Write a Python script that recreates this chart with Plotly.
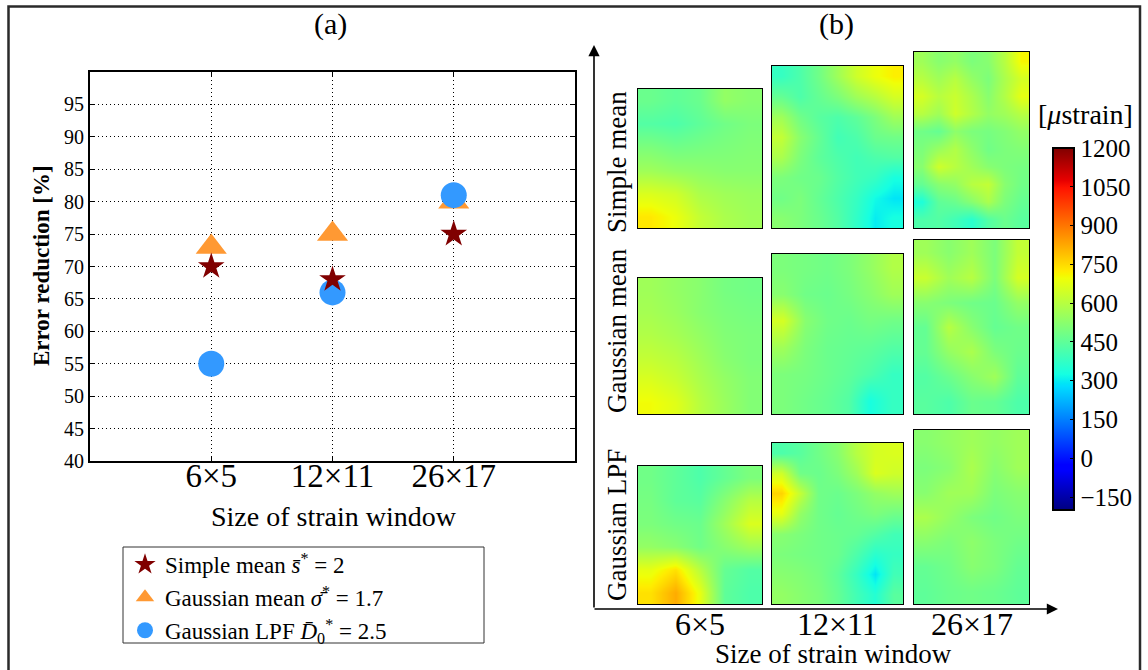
import numpy as np
import plotly.graph_objects as go

W, H = 1148, 670
FONT = "Liberation Serif"

# ---------------- data: panel (a) ----------------
windows = ["6×5", "12×11", "26×17"]
simple_mean = [70, 68, 75]
gaussian_mean = [73, 75, 80]
gaussian_lpf = [55, 66, 81]
y_ticks = [40, 45, 50, 55, 60, 65, 70, 75, 80, 85, 90, 95]

# ---------------- data: panel (b) strain maps [µstrain], rows top->bottom ----------------
methods = ["Simple mean", "Gaussian mean", "Gaussian LPF"]
cbar_ticks = [-150, 0, 150, 300, 450, 600, 750, 900, 1050, 1200]

simple_6x5 = [
    [470, 450, 470, 540, 520],
    [430, 420, 450, 480, 500],
    [500, 480, 490, 500, 510],
    [560, 540, 530, 520, 520],
    [660, 640, 580, 560, 550],
    [730, 690, 620, 580, 560],
]
simple_12x11 = [
    [380, 420, 480, 560, 640, 690, 720],
    [460, 420, 460, 500, 560, 600, 650],
    [560, 480, 440, 420, 450, 500, 560],
    [620, 520, 460, 400, 420, 470, 480],
    [580, 500, 450, 420, 400, 420, 430],
    [500, 480, 470, 430, 400, 380, 330],
    [480, 500, 460, 420, 380, 320, 290],
    [520, 500, 470, 430, 370, 300, 330],
]
simple_26x17 = [
    [560, 520, 540, 500, 520, 600, 710],
    [600, 560, 600, 540, 500, 580, 650],
    [650, 600, 630, 580, 520, 590, 680],
    [600, 560, 640, 590, 540, 560, 600],
    [480, 460, 530, 500, 490, 510, 540],
    [500, 550, 590, 530, 480, 500, 510],
    [520, 640, 600, 560, 520, 500, 490],
    [460, 520, 540, 600, 620, 520, 480],
    [340, 450, 470, 520, 580, 500, 460],
    [420, 430, 400, 360, 430, 470, 440],
]
gmean_6x5 = [
    [560, 540, 520, 490, 480],
    [570, 550, 520, 500, 490],
    [590, 570, 540, 510, 500],
    [620, 600, 560, 520, 500],
    [660, 630, 580, 540, 510],
    [700, 670, 600, 550, 510],
]
gmean_12x11 = [
    [500, 490, 480, 500, 540, 590],
    [520, 480, 470, 490, 520, 560],
    [650, 520, 480, 470, 490, 480],
    [560, 500, 470, 460, 450, 430],
    [500, 490, 470, 450, 420, 380],
    [500, 480, 460, 430, 330, 380],
]
gmean_26x17 = [
    [560, 520, 560, 500, 620],
    [630, 560, 600, 500, 650],
    [520, 500, 480, 470, 540],
    [460, 600, 520, 460, 480],
    [460, 540, 580, 500, 470],
    [430, 470, 520, 560, 450],
    [440, 420, 470, 460, 420],
]
lpf_6x5 = [
    [480, 450, 420, 460, 500],
    [490, 450, 440, 520, 600],
    [500, 480, 470, 560, 660],
    [540, 520, 480, 520, 560],
    [680, 740, 600, 460, 430],
    [740, 820, 680, 450, 420],
]
lpf_12x11 = [
    [420, 440, 480, 520, 600, 650, 660],
    [640, 480, 470, 500, 560, 660, 640],
    [760, 620, 480, 470, 500, 540, 560],
    [680, 540, 480, 460, 480, 500, 480],
    [520, 500, 480, 470, 460, 430, 400],
    [500, 490, 480, 470, 420, 360, 380],
    [520, 510, 490, 450, 380, 290, 400],
    [540, 520, 500, 460, 400, 350, 440],
]
lpf_26x17 = [
    [520, 540, 560, 540, 560],
    [500, 520, 580, 520, 560],
    [520, 560, 560, 500, 520],
    [580, 540, 500, 480, 500],
    [520, 500, 530, 500, 480],
    [460, 480, 520, 500, 460],
    [450, 470, 480, 470, 450],
]
maps = [
    [simple_6x5, simple_12x11, simple_26x17],
    [gmean_6x5, gmean_12x11, gmean_26x17],
    [lpf_6x5, lpf_12x11, lpf_26x17],
]

# ---------------- helpers ----------------
def fx(px):
    return px / W

def fy(py):
    return 1 - py / H

# matplotlib "jet" colour map
_r = [(0, 0), (0.35, 0), (0.66, 1), (0.89, 1), (1, 0.5)]
_g = [(0, 0), (0.125, 0), (0.375, 1), (0.64, 1), (0.91, 0), (1, 0)]
_b = [(0, 0.5), (0.11, 1), (0.34, 1), (0.65, 0), (1, 0)]
_stops = sorted(set([p for p, _ in _r + _g + _b]))
def _ch(seg, p):
    return float(np.interp(p, [a for a, _ in seg], [v for _, v in seg]))
jet = [[p, "rgb(%d,%d,%d)" % (round(255 * _ch(_r, p)), round(255 * _ch(_g, p)), round(255 * _ch(_b, p)))]
       for p in _stops]

fig = go.Figure()

# ---------------- panel (a) ----------------
fig.add_trace(go.Scatter(
    x=windows, y=gaussian_mean, mode="markers", name="Gaussian mean <i>σ\u0304</i><sup>*</sup> = 1.7",
    marker=dict(symbol="triangle-up", size=27, color="#ff9933", line=dict(width=0)),
    legendrank=2, xaxis="x", yaxis="y"))
fig.add_trace(go.Scatter(
    x=windows, y=gaussian_lpf, mode="markers", name="Gaussian LPF <i>D\u0304</i><sub>0</sub><sup>*</sup> = 2.5",
    marker=dict(symbol="circle", size=26, color="#3399ff", line=dict(width=0)),
    legendrank=3, xaxis="x", yaxis="y"))
fig.add_trace(go.Scatter(
    x=windows, y=simple_mean, mode="markers", name="Simple mean <i>s\u0304</i><sup>*</sup> = 2",
    marker=dict(symbol="star", size=20, color="#800000", line=dict(width=0)),
    legendrank=1, xaxis="x", yaxis="y"))

DOT = "1px,3px"
layout = dict(
    width=W, height=H,
    margin=dict(l=0, r=0, t=0, b=0, autoexpand=False),
    paper_bgcolor="white", plot_bgcolor="white",
    font=dict(family=FONT, color="black"),
    showlegend=True,
    legend=dict(x=fx(125), y=fy(543), xanchor="left", yanchor="top",
                borderwidth=0, bgcolor="rgba(0,0,0,0)",
                font=dict(family=FONT, size=23, color="black"),
                tracegroupgap=0, itemwidth=30),
    xaxis=dict(domain=[fx(90), fx(575)], type="category", range=[-1, 3],
               showline=True, linecolor="black", linewidth=2, mirror="ticks",
               ticks="inside", ticklen=4, tickcolor="black",
               showgrid=True, gridcolor="black", griddash=DOT, gridwidth=1,
               tickfont=dict(family=FONT, size=33), ticklabelstandoff=-16,
               zeroline=False, fixedrange=True),
    yaxis=dict(domain=[fy(461), fy(72)], range=[40, 100],
               tickvals=y_ticks, showline=True, linecolor="black", linewidth=2, mirror="ticks",
               ticks="inside", ticklen=4, tickcolor="black",
               showgrid=True, gridcolor="black", griddash=DOT, gridwidth=1,
               tickfont=dict(family=FONT, size=20), zeroline=False, fixedrange=True),
    coloraxis=dict(
        cmin=-200, cmax=1200, colorscale=jet,
        colorbar=dict(x=fx(1053), xanchor="left", xref="paper",
                      y=fy(329), yanchor="middle", yref="paper",
                      len=362, lenmode="pixels", thickness=21, thicknessmode="pixels",
                      outlinewidth=2, outlinecolor="black",
                      tickvals=cbar_ticks, ticks="inside", ticklen=5, tickcolor="black",
                      tickfont=dict(family=FONT, size=25, color="black"),
                      xpad=0, ypad=0),
    ),
)

# ---------------- panel (b) strain maps ----------------
col_x = [(638, 762), (772, 903), (914, 1029)]
row_bottom = [228, 414, 604]
row_tops = [[89, 66, 52], [278, 254, 240], [466, 443, 430]]

k = 2
for r in range(3):
    for c in range(3):
        z = np.array(maps[r][c], dtype=float)
        fig.add_trace(go.Heatmap(z=z, coloraxis="coloraxis", zsmooth="best",
                                 xaxis="x%d" % k, yaxis="y%d" % k, showlegend=False,
                                 hoverinfo="skip"))
        layout["xaxis%d" % k] = dict(domain=[fx(col_x[c][0]), fx(col_x[c][1])],
                                     showticklabels=False, ticks="", showgrid=False, zeroline=False,
                                     showline=True, mirror=True, linecolor="black", linewidth=1.3,
                                     anchor="y%d" % k, fixedrange=True)
        layout["yaxis%d" % k] = dict(domain=[fy(row_bottom[r]), fy(row_tops[r][c])],
                                     autorange="reversed",
                                     showticklabels=False, ticks="", showgrid=False, zeroline=False,
                                     showline=True, mirror=True, linecolor="black", linewidth=1.3,
                                     anchor="x%d" % k, fixedrange=True)
        k += 1

fig.update_layout(**layout)

# ---------------- text ----------------
ann = []
def text(x, y, s, size, angle=0, **kw):
    ann.append(dict(x=fx(x), y=fy(y), xref="paper", yref="paper", text=s, showarrow=False,
                    textangle=angle, font=dict(family=FONT, size=size, color="black"),
                    xanchor="center", yanchor="middle", **kw))

text(330, 24, "(a)", 30)
text(836, 24, "(b)", 30)
text(41, 266, "<b>Error reduction [%]</b>", 23, angle=-90)
text(334, 516, "Size of strain window", 28)
text(833, 654, "Size of strain window", 27)
method_centers = [162, 331, 525]
for lab, cy in zip(methods, method_centers):
    text(617, cy, lab, 27, angle=-90)
for lab, (x0, x1) in zip(windows, col_x):
    text((x0 + x1) / 2, 624, lab, 32)
text(1085, 115, "[<i>μ</i>strain]", 28)

# arrows of panel (b)
ann.append(dict(x=fx(594), y=fy(45), xref="paper", yref="paper", ax=0, ay=564,
                axref="pixel", ayref="pixel", text="", showarrow=True,
                arrowhead=2, arrowsize=1.4, arrowwidth=1.6, arrowcolor="black"))
ann.append(dict(x=fx(1058), y=fy(609), xref="paper", yref="paper", ax=-465, ay=0,
                axref="pixel", ayref="pixel", text="", showarrow=True,
                arrowhead=2, arrowsize=1.4, arrowwidth=1.6, arrowcolor="black"))
fig.update_layout(annotations=ann)

# legend box
fig.add_shape(type="rect", xref="paper", yref="paper",
              x0=fx(123), x1=fx(484), y0=fy(643), y1=fy(547),
              line=dict(color="#333333", width=1), fillcolor="rgba(0,0,0,0)", layer="above")
# outer frame
fig.add_shape(type="rect", xref="paper", yref="paper",
              x0=fx(8.5), x1=fx(1140), y0=fy(700), y1=fy(6.5),
              line=dict(color="#2a2a2a", width=2.5), fillcolor="rgba(0,0,0,0)", layer="above")

fig.write_html("out.html", config={"displayModeBar": False})
